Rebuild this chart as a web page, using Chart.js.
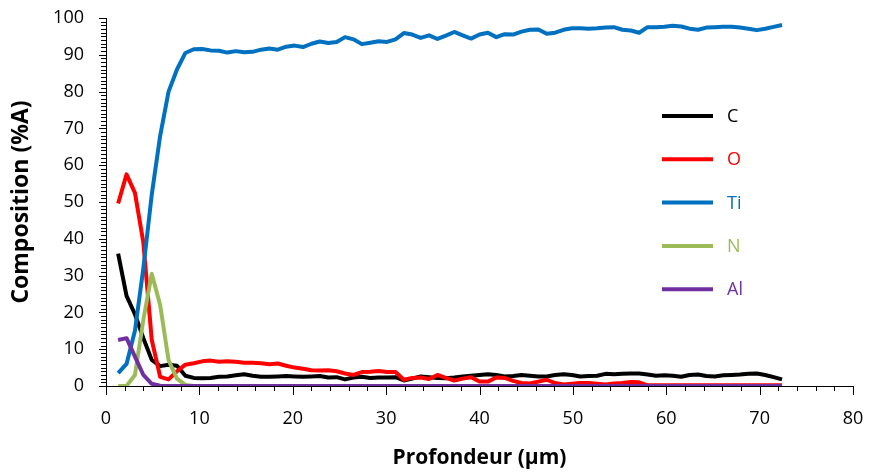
<!DOCTYPE html>
<html>
<head>
<meta charset="utf-8">
<script src="https://cdn.jsdelivr.net/npm/chart.js@4.4.1/dist/chart.umd.min.js"></script>
<style>
  html, body { margin: 0; padding: 0; background: #ffffff; }
  #wrap { width: 872px; height: 475px; }
</style>
</head>
<body>
<div id="wrap"><canvas id="chart" width="872" height="475"></canvas></div>
<script>
// depth (µm)
const depth = [
  1.3, 2.2, 3.1, 4.0, 4.9, 5.8, 6.7, 7.6, 8.5, 9.4,
  10.3, 11.2, 12.1, 13.0, 13.9, 14.8, 15.7, 16.6, 17.5, 18.4,
  19.3, 20.2, 21.1, 22.0, 22.9, 23.8, 24.7, 25.6, 26.5, 27.4,
  28.3, 29.2, 30.1, 31.0, 31.9, 32.8, 33.7, 34.6, 35.5, 36.4,
  37.3, 38.2, 39.1, 40.0, 40.9, 41.8, 42.7, 43.6, 44.5, 45.4,
  46.3, 47.2, 48.1, 49.0, 49.9, 50.8, 51.7, 52.6, 53.5, 54.4,
  55.3, 56.2, 57.1, 58.0, 58.9, 59.8, 60.7, 61.6, 62.5, 63.4,
  64.3, 65.2, 66.1, 67.0, 67.9, 68.8, 69.7, 70.6, 71.5, 72.4
];

const carbon = [
  36, 24.5, 19.5, 13, 7.1, 5.4, 5.8, 5.5, 2.8, 2.2,
  2.1, 2.2, 2.5, 2.6, 2.9, 3.2, 2.8, 2.5, 2.5, 2.6,
  2.7, 2.6, 2.5, 2.6, 2.7, 2.3, 2.4, 1.8, 2.3, 2.5,
  2.2, 2.3, 2.3, 2.4, 1.5, 2.0, 2.6, 2.4, 2.2, 2.1,
  2.3, 2.6, 2.8, 3.0, 3.2, 3.0, 2.6, 2.7, 3.0, 2.8,
  2.6, 2.6, 3.0, 3.2, 3.0, 2.6, 2.7, 2.8, 3.3, 3.2,
  3.3, 3.4, 3.4, 3.1, 2.8, 2.9, 2.8, 2.5, 3.0, 3.1,
  2.7, 2.6, 2.9, 3.0, 3.1, 3.3, 3.4, 3.0, 2.4, 1.8
];

const oxygen = [
  49.6, 57.5, 52.5, 39, 12.5, 2.5, 1.8, 4.0, 5.8, 6.2,
  6.7, 6.9, 6.6, 6.7, 6.6, 6.3, 6.3, 6.2, 5.9, 6.1,
  5.5, 5.0, 4.7, 4.3, 4.2, 4.3, 4.0, 3.4, 3.0, 3.8,
  3.9, 4.1, 3.8, 3.8, 1.7, 2.2, 2.3, 1.9, 3.0, 2.2,
  1.5, 2.0, 2.4, 1.2, 1.2, 2.3, 2.2, 1.4, 0.8, 0.7,
  1.2, 1.7, 0.8, 0.4, 0.6, 0.8, 0.8, 0.6, 0.4, 0.7,
  0.8, 1.1, 1.0, 0.2, 0.2, 0.2, 0.2, 0.2, 0.2, 0.2,
  0.2, 0.2, 0.2, 0.2, 0.2, 0.2, 0.2, 0.2, 0.2, 0.2
];

const titanium = [
  3.5, 6, 15, 32, 52, 68, 80, 86, 90.5, 91.5,
  91.6, 91.2, 91.1, 90.6, 91.0, 90.7, 90.8, 91.4, 91.7, 91.4,
  92.2, 92.5, 92.1, 93.0, 93.6, 93.2, 93.5, 94.8, 94.2, 92.9,
  93.3, 93.7, 93.5, 94.2, 95.9, 95.5, 94.6, 95.3, 94.3, 95.2,
  96.2, 95.3, 94.4, 95.5, 96.0, 94.8, 95.6, 95.5, 96.3, 96.8,
  96.9, 95.7, 96.0, 96.8, 97.2, 97.2, 97.1, 97.2, 97.4, 97.5,
  96.8, 96.6, 96.0, 97.5, 97.5, 97.6, 97.9, 97.7, 97.1, 96.8,
  97.4, 97.5, 97.6, 97.6, 97.4, 97.1, 96.7, 97.1, 97.6, 98.1
];

const nitrogen = [
  0, 0, 3, 18, 30.5, 22, 7, 2, 0.3, 0,
  0, 0, 0, 0, 0, 0, 0, 0, 0, 0,
  0, 0, 0, 0, 0, 0, 0, 0, 0, 0,
  0, 0, 0, 0, 0, 0, 0, 0, 0, 0,
  0, 0, 0, 0, 0, 0, 0, 0, 0, 0,
  0, 0, 0, 0, 0, 0, 0, 0, 0, 0,
  0, 0, 0, 0, 0, 0, 0, 0, 0, 0,
  0, 0, 0, 0, 0, 0, 0, 0, 0, 0
];

const aluminium = [
  12.5, 13, 8, 3, 0.6, 0.1, 0, 0, 0, 0,
  0, 0, 0, 0, 0, 0, 0, 0, 0, 0,
  0, 0, 0, 0, 0, 0, 0, 0, 0, 0,
  0, 0, 0, 0, 0, 0, 0, 0, 0, 0,
  0, 0, 0, 0, 0, 0, 0, 0, 0, 0,
  0, 0, 0, 0, 0, 0, 0, 0, 0, 0,
  0, 0, 0, 0, 0, 0, 0, 0, 0, 0,
  0, 0, 0, 0, 0, 0, 0, 0, 0, 0
];

const seriesNames = ["C", "O", "Ti", "N", "Al"];
const seriesColors = ["#000000", "#FF0000", "#0070C0", "#9BBB59", "#7030A0"];
const seriesValues = [carbon, oxygen, titanium, nitrogen, aluminium];

const FONT = "'Open Sans', sans-serif";

// minor/major tick marks like Excel
const tickMarks = {
  id: "tickMarks",
  afterDraw(chart) {
    const ctx = chart.ctx;
    const x = chart.scales.x;
    const y = chart.scales.y;
    ctx.save();
    ctx.strokeStyle = "#000000";
    ctx.lineWidth = 1;
    ctx.beginPath();
    for (let v = 0; v <= 80; v += 2) {
      const px = Math.round(x.getPixelForValue(v)) + 0.5;
      const len = v % 10 === 0 ? 9 : 5;
      ctx.moveTo(px, y.bottom);
      ctx.lineTo(px, y.bottom + len);
    }
    for (let v = 0; v <= 100; v += 1) {
      const py = Math.round(y.getPixelForValue(v)) + 0.5;
      const len = v % 10 === 0 ? 7 : 5;
      ctx.moveTo(x.left, py);
      ctx.lineTo(x.left - len, py);
    }
    ctx.stroke();
    ctx.restore();
  }
};

// legend inside the plot area
const insideLegend = {
  id: "insideLegend",
  afterDraw(chart) {
    const ctx = chart.ctx;
    ctx.save();
    ctx.font = "18px " + FONT;
    ctx.textBaseline = "middle";
    ctx.lineCap = "butt";
    chart.data.datasets.forEach((ds, i) => {
      const yy = 116 + i * 43.3;
      ctx.strokeStyle = ds.borderColor;
      ctx.lineWidth = 4;
      ctx.beginPath();
      ctx.moveTo(662, yy);
      ctx.lineTo(713, yy);
      ctx.stroke();
      ctx.fillStyle = ds.borderColor;
      ctx.fillText(ds.label, 727, yy + 1);
    });
    ctx.restore();
  }
};

new Chart(document.getElementById("chart"), {
  type: "line",
  data: {
    labels: depth,
    datasets: seriesNames.map((name, i) => ({
      label: name,
      data: depth.map((d, k) => ({ x: d, y: seriesValues[i][k] })),
      borderColor: seriesColors[i],
      backgroundColor: seriesColors[i],
      borderWidth: 4,
      pointRadius: 0,
      tension: 0,
      fill: false,
      borderJoinStyle: "round",
      order: 5 - i
    }))
  },
  options: {
    responsive: false,
    devicePixelRatio: 1,
    animation: false,
    layout: {
      padding: { left: 0, top: 18, right: 19, bottom: 0 }
    },
    plugins: {
      legend: { display: false },
      tooltip: { enabled: false }
    },
    scales: {
      x: {
        type: "linear",
        min: 0,
        max: 80,
        afterFit: s => { s.height = 89; s.paddingLeft = 0; s.paddingRight = 0; },
        ticks: {
          stepSize: 10,
          color: "#000000",
          padding: 14,
          font: { family: FONT, size: 18 }
        },
        grid: { display: false },
        border: { display: true, color: "#000000", width: 1 },
        title: {
          display: true,
          text: "Profondeur (µm)",
          color: "#000000",
          font: { family: FONT, size: 21, weight: "bold" },
          padding: { top: 0, bottom: 4 }
        }
      },
      y: {
        min: 0,
        max: 100,
        afterFit: s => { s.width = 106; s.paddingTop = 0; s.paddingBottom = 0; },
        ticks: {
          stepSize: 10,
          color: "#000000",
          padding: 14,
          font: { family: FONT, size: 18 }
        },
        grid: { display: false },
        border: { display: true, color: "#000000", width: 1 },
        title: {
          display: true,
          text: "Composition (%A)",
          color: "#000000",
          font: { family: FONT, size: 23, weight: "bold" },
          padding: { top: 8, bottom: 0 }
        }
      }
    }
  },
  plugins: [tickMarks, insideLegend]
});
</script>
</body>
</html>
